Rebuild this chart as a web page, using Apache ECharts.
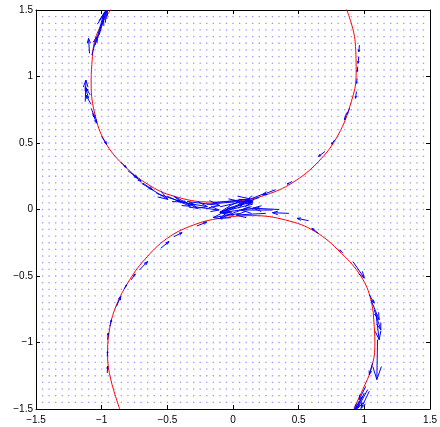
<!DOCTYPE html>
<html>
<head>
<meta charset="utf-8">
<script src="https://cdn.jsdelivr.net/npm/echarts@6/dist/echarts.min.js"></script>
<style>
  html, body { margin: 0; padding: 0; background: #fff; }
  #chart { width: 440px; height: 427px; }
</style>
</head>
<body>
<div id="chart"></div>
<script>
// tick values of both axes
const axisTicks = [-1.5, -1, -0.5, 0, 0.5, 1, 1.5]

// positions of the background field points (same for x and y)
const fieldTicks = [-1.45, -1.4, -1.35, -1.3, -1.25, -1.2, -1.15, -1.1, -1.05, -1, -0.95, -0.9, -0.85, -0.8, -0.75, -0.7, -0.65, -0.6, -0.55, -0.5, -0.45, -0.4, -0.35, -0.3, -0.25, -0.2, -0.15, -0.1, -0.05, 0, 0.05, 0.1, 0.15, 0.2, 0.25, 0.3, 0.35, 0.4, 0.45, 0.5, 0.55, 0.6, 0.65, 0.7, 0.75, 0.8, 0.85, 0.9, 0.95, 1, 1.05, 1.1, 1.15, 1.2, 1.25, 1.3, 1.35, 1.4, 1.45]

// red curves
const upperX = [-0.925, -1.04, -1.075, -1.08, -1.05, -0.975, -0.84, -0.65, -0.45, -0.175, 0.05, 0.25, 0.45, 0.65, 0.80, 0.90, 0.9375, 0.93, 0.8625]
const upperY = [1.51, 1.31, 1.09, 0.94, 0.71, 0.51, 0.34, 0.19, 0.10, 0.056, 0.066, 0.11, 0.20, 0.36, 0.56, 0.81, 1.01, 1.26, 1.51]
const lowerX = [-0.8625, -0.93, -0.955, -0.945, -0.9, -0.8, -0.675, -0.5, -0.3, -0.1, 0.15, 0.4, 0.625, 0.825, 0.975, 1.05, 1.075, 1.08, 1.05, 0.9875, 0.92]
const lowerY = [-1.50, -1.28, -1.10, -0.93, -0.75, -0.55, -0.379, -0.216, -0.116, -0.066, -0.046, -0.079, -0.166, -0.329, -0.504, -0.679, -0.879, -1.029, -1.204, -1.354, -1.496]

// quiver arrows: [x, y, u, v]
const upperArrows = [
  [-1.0375, 1.261, 0.0625, 0.225], [-1.02, 1.311, 0.0575, 0.1875], [-1.05, 1.236, 0.0625, 0.225],
  [-1.0125, 1.361, 0.0575, 0.15], [-1.0925, 1.174, -0.0075, 0.1125], [-1.075, 1.161, 0.0375, 0.1375],
  [-1.125, 0.811, 0.005, 0.1625], [-1.1, 0.836, -0.025, 0.0875], [-1.0875, 0.861, -0.03, 0.05],
  [-1.08, 0.79, -0.04, 0.07], [-1.08, 0.761, 0.03, -0.075], [-1.07, 0.724, 0.0325, -0.075],
  [-1.0, 0.549, 0.0375, -0.0575], [-0.855, 0.356, 0.0425, -0.04], [-0.8, 0.291, 0.075, -0.055],
  [-0.7625, 0.261, 0.0625, -0.05], [-0.6875, 0.199, 0.075, -0.05], [-0.695, 0.196, 0.2, -0.12],
  [-0.583, 0.121, 0.1875, -0.0625], [-0.445, 0.096, 0.175, -0.0875], [-0.42, 0.059, 0.225, -0.0375],
  [-0.295, 0.021, 0.1875, -0.025], [-0.5, 0.099, 0.175, -0.075], [-0.35, 0.06, 0.25, -0.03],
  [-0.2, 0.04, 0.25, 0.02], [-0.1, 0.02, 0.22, 0.05], [0.25, 0.124, -0.15, -0.0575],
  [0.325, 0.149, -0.1, -0.0375], [0.45, 0.211, -0.0375, -0.02], [0.7, 0.436, -0.05, -0.0375],
  [0.775, 0.524, -0.025, -0.0325], [0.8625, 0.724, -0.0125, -0.05], [0.8875, 0.76, -0.02, -0.045],
  [0.9625, 1.236, -0.005, -0.05], [0.9575, 1.149, -0.005, -0.05], [0.95, 1.074, -0.005, -0.0375],
  [0.945, 0.986, -0.005, -0.0375], [0.94, 0.886, -0.0075, -0.05], [0.2, 0.09, -0.12, -0.04]
]
const lowerArrows = [
  [-0.275, -0.124, 0.075, 0.03], [-0.45, -0.204, 0.0625, 0.03], [-0.55, -0.291, 0.0625, 0.05],
  [-0.7125, -0.454, 0.0625, 0.0625], [-0.775, -0.529, 0.03, 0.045], [-0.83, -0.599, 0.02, 0.0325],
  [-0.8875, -0.729, 0.0325, 0.075], [-0.9375, -0.879, 0.0125, 0.05], [-0.955, -0.979, 0.005, 0.05],
  [-0.9575, -1.104, 0.0025, 0.0375], [-0.9575, -1.229, 0.0025, 0.05],
  [0.575, -0.084, -0.0875, 0.0175], [0.65, -0.179, -0.05, 0.0375], [0.8375, -0.329, -0.025, 0.025],
  [0.9125, -0.391, 0.0875, -0.125], [1.0375, -0.641, 0.0375, -0.0625], [1.05, -0.679, 0.0625, -0.15],
  [1.075, -0.754, 0.05, -0.15], [1.0875, -0.779, 0.025, -0.2], [1.1, -0.979, -0.005, -0.3],
  [1.0625, -1.154, -0.025, -0.0875], [1.025, -1.354, -0.075, -0.1375], [1.0, -1.379, -0.0625, -0.125],
  [1.0375, -1.366, -0.0625, -0.13], [0.9875, -1.404, -0.0625, -0.1], [1.01, -1.33, -0.05, -0.1]
]
const centerArrows = [
  [0.425, -0.029, -0.125, 0.005], [0.3, -0.004, -0.2375, 0], [0.25, -0.029, -0.225, -0.0125],
  [0.125, 0.021, -0.225, -0.0875], [0.1, 0.059, -0.175, -0.0875], [-0.425, 0.071, 0.125, -0.0375],
  [0.35, 0.0, -0.2, 0.01], [0.05, -0.03, -0.2, -0.03], [-0.15, 0.05, 0.28, 0.03],
  [-0.05, 0.0, 0.2, 0.06], [0.15, 0.04, -0.25, -0.06], [0.0, 0.07, 0.15, -0.02],
  [0.2, 0.015, -0.3, -0.04], [-0.1, -0.02, 0.2, 0.08]
]

const fieldPoints = []
fieldTicks.forEach(x => fieldTicks.forEach(y => fieldPoints.push([x, y])))
const zip = (xs, ys) => xs.map((x, i) => [x, ys[i]])
const minus = v => String(v).replace('-', '\u2212')

// MATLAB-style open arrow head
function renderArrow (params, api) {
  const p0 = api.coord([api.value(0), api.value(1)])
  const p1 = api.coord([api.value(0) + api.value(2), api.value(1) + api.value(3)])
  const dx = p1[0] - p0[0]
  const dy = p1[1] - p0[1]
  const a = 0.33
  const b = 0.33
  const h1 = [p1[0] - a * (dx + b * dy), p1[1] - a * (dy - b * dx)]
  const h2 = [p1[0] - a * (dx - b * dy), p1[1] - a * (dy + b * dx)]
  const style = { stroke: '#0000ff', lineWidth: 1, fill: null }
  return {
    type: 'group',
    children: [
      { type: 'polyline', shape: { points: [p0, p1] }, style },
      { type: 'polyline', shape: { points: [h1, p1, h2] }, style }
    ]
  }
}

const axisFont = { fontFamily: 'Liberation Sans, Arial, sans-serif', fontSize: 10, color: '#000' }
const baseAxis = {
  type: 'value',
  min: -1.5,
  max: 1.5,
  interval: 0.5,
  axisLine: { show: true, onZero: false, lineStyle: { color: '#000', width: 1 } },
  axisTick: { show: true, inside: true, length: 4, lineStyle: { color: '#000' } },
  splitLine: { show: false }
}

const option = {
  animation: false,
  backgroundColor: '#fff',
  grid: { left: 36, right: 4, top: 10, bottom: 18 },
  xAxis: [
    Object.assign({}, baseAxis, {
      position: 'bottom',
      axisLabel: Object.assign({ margin: 6, formatter: minus, showMinLabel: true, showMaxLabel: true }, axisFont)
    }),
    Object.assign({}, baseAxis, { position: 'top', axisLabel: { show: false } })
  ],
  yAxis: [
    Object.assign({}, baseAxis, {
      position: 'left',
      axisLabel: Object.assign({ margin: 3, formatter: minus, showMinLabel: true, showMaxLabel: true }, axisFont)
    }),
    Object.assign({}, baseAxis, { position: 'right', axisLabel: { show: false } })
  ],
  series: [
    {
      type: 'scatter',
      data: fieldPoints,
      symbol: 'rect',
      symbolSize: 1.3,
      itemStyle: { color: 'rgba(80,80,255,0.75)' },
      silent: true
    },
    {
      type: 'line',
      data: zip(upperX, upperY),
      smooth: 0.4,
      showSymbol: false,
      lineStyle: { color: '#ff0000', width: 1 },
      z: 3
    },
    {
      type: 'line',
      data: zip(lowerX, lowerY),
      smooth: 0.4,
      showSymbol: false,
      lineStyle: { color: '#ff0000', width: 1 },
      z: 3
    },
    {
      type: 'custom',
      renderItem: renderArrow,
      data: upperArrows.concat(lowerArrows, centerArrows),
      clip: true,
      z: 4
    }
  ]
}

const chart = echarts.init(document.getElementById('chart'))
chart.setOption(option)
</script>
</body>
</html>
